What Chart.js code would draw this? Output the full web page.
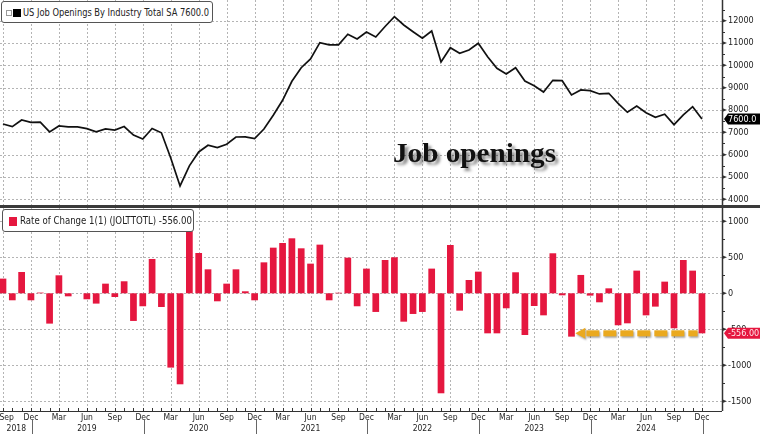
<!DOCTYPE html>
<html>
<head>
<meta charset="utf-8">
<script src="https://cdn.jsdelivr.net/npm/chart.js@4.4.1/dist/chart.umd.min.js"></script>
<style>
  html, body { margin:0; padding:0; background:#fff; }
  body { width:760px; height:434px; position:relative; overflow:hidden; }
  .cv { position:absolute; left:0; }
  #sep { position:absolute; left:0; top:205px; width:760px; height:3px; background:#3a3a3a; }
  .leg { position:absolute; background:#fff; border:1px solid #555; border-radius:3px; box-sizing:border-box; }
  .legtxt { position:absolute; white-space:nowrap; font-family:'Liberation Sans Narrow','DejaVu Sans Condensed','Liberation Sans',sans-serif; font-size:11px; color:#222; transform-origin:0 50%; }
  #title { position:absolute; left:393px; top:139px; font-family:'Liberation Serif','DejaVu Serif',serif; font-weight:bold; font-size:28px; line-height:28px; color:#111; text-shadow:3px 3px 3px rgba(0,0,0,0.45); white-space:nowrap; transform-origin:0 50%; }
</style>
</head>
<body>
<canvas id="top" class="cv" style="top:0"></canvas>
<div id="sep"></div>
<canvas id="bot" class="cv" style="top:208px"></canvas>

<div class="leg" style="left:1px;top:1px;width:212px;height:22px;">
  <span style="position:absolute;left:4px;top:8px;width:4px;height:4px;border:1px solid #999;"></span>
  <span style="position:absolute;left:11px;top:7px;width:8px;height:8px;background:#000;"></span>
  <span id="leg1" class="legtxt" style="left:21px;top:4px;"></span>
</div>
<div class="leg" style="left:2px;top:209px;width:192px;height:23px;">
  <span style="position:absolute;left:6px;top:7px;width:8px;height:9px;background:#e5173f;"></span>
  <span id="leg2" class="legtxt" style="left:17px;top:4px;"></span>
</div>
<div id="title">Job openings</div>

<script>
// ---------------- data ----------------
const categories = [
  'Sep 2018','Oct 2018','Nov 2018','Dec 2018',
  'Jan 2019','Feb 2019','Mar 2019','Apr 2019','May 2019','Jun 2019','Jul 2019','Aug 2019','Sep 2019','Oct 2019','Nov 2019','Dec 2019',
  'Jan 2020','Feb 2020','Mar 2020','Apr 2020','May 2020','Jun 2020','Jul 2020','Aug 2020','Sep 2020','Oct 2020','Nov 2020','Dec 2020',
  'Jan 2021','Feb 2021','Mar 2021','Apr 2021','May 2021','Jun 2021','Jul 2021','Aug 2021','Sep 2021','Oct 2021','Nov 2021','Dec 2021',
  'Jan 2022','Feb 2022','Mar 2022','Apr 2022','May 2022','Jun 2022','Jul 2022','Aug 2022','Sep 2022','Oct 2022','Nov 2022','Dec 2022',
  'Jan 2023','Feb 2023','Mar 2023','Apr 2023','May 2023','Jun 2023','Jul 2023','Aug 2023','Sep 2023','Oct 2023','Nov 2023','Dec 2023',
  'Jan 2024','Feb 2024','Mar 2024','Apr 2024','May 2024','Jun 2024','Jul 2024','Aug 2024','Sep 2024','Oct 2024','Nov 2024','Dec 2024'
];
// US Job Openings By Industry Total SA (thousands)
const openings = [
  7374, 7253, 7553, 7450,
  7460, 7020, 7285, 7240, 7240, 7166, 7020, 7150, 7100, 7260, 6880, 6700,
  7170, 6980, 5850, 4600, 5500, 6120, 6420, 6313, 6465, 6792, 6800, 6720,
  7150, 7764, 8435, 9286, 9895, 10285, 11015, 10920, 10920, 11391, 11181, 11494,
  11270, 11740, 12180, 11807, 11507, 11212, 11539, 10151, 10791, 10540, 10688, 10988,
  10388, 9868, 9613, 9895, 9300, 9089, 8807, 9331, 9313, 8673, 8897, 8866,
  8718, 8749, 8301, 7898, 8180, 7880, 7674, 7809, 7343, 7777, 8150, 7600
];
// Rate of Change 1(1) (JOLTTOTL)
const changes = [
  204, -97, 296, -97,
  10, -421, 250, -42, 0, -83, -143, 134, -51, 167, -384, -180,
  477, -190, -1032, -1264, 900, 560, 333, -111, 134, 333, 28, -97,
  430, 634, 699, 764, 625, 412, 676, -97, 8, 495, -180, 343,
  -259, 463, 500, -394, -287, -259, 343, -1389, 671, -241, 185, 301,
  -556, -556, -208, 292, -579, -176, -306, 556, -28, -602, 255, -32,
  -125, 69, -444, -417, 315, -306, -185, 162, -486, 463, 315, -556
];
const xTickIndex = [0,3,6,9,12,15,18,21,24,27,30,33,36,39,42,45,48,51,54,57,60,63,66,69,72,75];
const yTicksTop = [4000,5000,6000,7000,8000,9000,10000,11000,12000];
const yTicksBottom = [-1500,-1000,-500,0,500,1000];

// ---------------- helpers ----------------
const FONT = "'Liberation Sans Narrow','DejaVu Sans Condensed','Liberation Sans',sans-serif";
const RED = '#e5173f';
const GRID = '#b4b4b4';
const AXIS = '#333';
const X_MIN = -0.32, X_MAX = 77.15;

function tickLabel(v) {
  const i = Math.round(v);
  const [m, yr] = categories[i].split(' ');
  // the first (partial) year is centred in its short span and kept inside the frame
  if (i === 0) return ['   ' + m, '           ' + yr];
  return (m === 'Jun') ? [m, yr] : [m];
}

function line(ctx, x1, y1, x2, y2) { ctx.beginPath(); ctx.moveTo(x1, y1); ctx.lineTo(x2, y2); ctx.stroke(); }

function gridPlugin(yTicks, minorStep, isBottom) {
  return {
    id: 'panelGrid',
    beforeDatasetsDraw(chart) {
      const { ctx, chartArea: a, scales: { x, y } } = chart;
      ctx.save();
      ctx.strokeStyle = GRID; ctx.lineWidth = 1; ctx.setLineDash([2, 2]);
      xTickIndex.forEach(v => { const px = Math.round(x.getPixelForValue(v)) + 0.5; line(ctx, px, a.top, px, a.bottom); });
      yTicks.forEach(v => { const py = Math.round(y.getPixelForValue(v)) + 0.5; line(ctx, a.left, py, a.right, py); });
      ctx.restore();
    },
    afterDraw(chart) {
      const { ctx, chartArea: a, scales: { x, y } } = chart;
      ctx.save();
      // right axis line
      ctx.strokeStyle = AXIS; ctx.lineWidth = 1.5;
      line(ctx, a.right + 0.5, 0, a.right + 0.5, isBottom ? a.bottom : chart.height);
      // major ticks (small arrows) and minor ticks
      ctx.fillStyle = AXIS;
      yTicks.forEach(v => {
        const py = y.getPixelForValue(v);
        ctx.beginPath(); ctx.moveTo(a.right, py - 2); ctx.lineTo(a.right + 5, py); ctx.lineTo(a.right, py + 2); ctx.closePath(); ctx.fill();
      });
      ctx.lineWidth = 1;
      for (let v = yTicks[0] - minorStep; v <= yTicks[yTicks.length - 1] + minorStep; v += minorStep * 2) {
        const py = Math.round(y.getPixelForValue(v)) + 0.5;
        if (py > a.top && py < a.bottom) line(ctx, a.right, py, a.right + 3, py);
      }
      if (isBottom) {
        // x axis line, month ticks, year separators
        ctx.lineWidth = 1.2;
        line(ctx, 0, a.bottom + 0.5, a.right, a.bottom + 0.5);
        ctx.lineWidth = 1;
        categories.forEach((c, i) => {
          const px = Math.round(x.getPixelForValue(i)) + 0.5;
          line(ctx, px, a.bottom, px, a.bottom - 3);
          if (c.startsWith('Dec')) { ctx.strokeStyle = '#666'; line(ctx, px + 1, a.bottom + 8, px + 1, chart.height); ctx.strokeStyle = AXIS; }
        });
        // dashed arrow pointing to the latest value
        const last = changes.length - 1;
        const bw = (x.getPixelForValue(1) - x.getPixelForValue(0)) * 0.72;
        const yv = y.getPixelForValue(changes[last]);
        const tip = x.getPixelForValue(61) + bw / 2 + 0.5;
        const tail = x.getPixelForValue(last) - bw / 2 - 1;
        ctx.shadowColor = 'rgba(0,0,0,0.35)'; ctx.shadowOffsetX = 1; ctx.shadowOffsetY = 1.5; ctx.shadowBlur = 2;
        ctx.fillStyle = '#eaa91e';
        ctx.beginPath(); ctx.moveTo(tip, yv); ctx.lineTo(tip + 10, yv - 5.5); ctx.lineTo(tip + 10, yv + 5.5); ctx.closePath(); ctx.fill();
        let sx = tip + 11;
        while (sx < tail) { const w = Math.min(13, tail - sx); ctx.fillRect(sx, yv - 3, w, 6); sx += 17; }
        ctx.shadowColor = 'transparent';
      }
      // last-value tag
      const val = isBottom ? changes[changes.length - 1] : openings[openings.length - 1];
      const txt = isBottom ? val.toFixed(2) : val.toFixed(1);
      const ty = y.getPixelForValue(val);
      ctx.fillStyle = isBottom ? RED : '#000';
      ctx.beginPath();
      ctx.moveTo(a.right + 2, ty); ctx.lineTo(a.right + 6, ty - 5.5); ctx.lineTo(chart.width, ty - 5.5);
      ctx.lineTo(chart.width, ty + 5.5); ctx.lineTo(a.right + 6, ty + 5.5); ctx.closePath(); ctx.fill();
      ctx.fillStyle = isBottom ? '#ffe6ea' : '#fff';
      ctx.font = '9px ' + FONT; ctx.textAlign = 'left'; ctx.textBaseline = 'middle';
      ctx.fillText(txt, a.right + 6, ty + 0.5);
      ctx.restore();
    }
  };
}

function yAxis(min, max, ticks) {
  return {
    type: 'linear', position: 'right', min, max,
    afterBuildTicks: s => { s.ticks = ticks.map(v => ({ value: v })); },
    afterFit: s => { s.width = 38; s.paddingTop = 0; s.paddingBottom = 0; },
    grid: { display: false, drawTicks: false }, border: { display: false },
    ticks: { padding: 6, color: '#222', font: { family: FONT, size: 9 }, callback: v => String(v) }
  };
}

const common = {
  responsive: false, maintainAspectRatio: false, animation: false,
  layout: { padding: 0 },
  plugins: { legend: { display: false }, tooltip: { enabled: false } }
};

// ---------------- top chart ----------------
const topCv = document.getElementById('top');
topCv.width = 760; topCv.height = 205;
new Chart(topCv, {
  type: 'line',
  data: { datasets: [{ data: openings.map((v, i) => ({ x: i, y: v })), borderColor: '#111', borderWidth: 1.7, pointRadius: 0, tension: 0, fill: false }] },
  options: Object.assign({}, common, {
    scales: {
      x: { type: 'linear', min: X_MIN, max: X_MAX, display: false },
      y: yAxis(3745, 12927, yTicksTop)
    }
  }),
  plugins: [gridPlugin(yTicksTop, 500, false)]
});

// ---------------- bottom chart ----------------
const botCv = document.getElementById('bot');
botCv.width = 760; botCv.height = 226;
new Chart(botCv, {
  type: 'bar',
  data: { datasets: [{ data: changes.map((v, i) => ({ x: i, y: v })), backgroundColor: RED, borderWidth: 0, categoryPercentage: 0.8, barPercentage: 0.9 }] },
  options: Object.assign({}, common, {
    scales: {
      x: {
        type: 'linear', min: X_MIN, max: X_MAX, offset: false,
        afterBuildTicks: s => { s.ticks = xTickIndex.map(v => ({ value: v })); },
        afterFit: s => { s.height = 23; s.paddingLeft = 0; s.paddingRight = 0; },
        grid: { display: false, drawTicks: false, offset: false }, border: { display: false },
        ticks: { autoSkip: false, maxRotation: 0, padding: 2, color: '#222', font: { family: FONT, size: 8.5, lineHeight: 1.2 }, callback: v => tickLabel(v) }
      },
      y: yAxis(-1635, 1185, yTicksBottom)
    }
  }),
  plugins: [gridPlugin(yTicksBottom, 250, true)]
});

// ---------------- legends ----------------
function fitText(id, text, width) {
  const el = document.getElementById(id);
  el.textContent = text;
  const w = el.getBoundingClientRect().width;
  el.style.transform = 'scaleX(' + (width / w) + ')';
}
fitText('leg1', 'US Job Openings By Industry Total SA ' + openings[openings.length - 1].toFixed(1), 186);
fitText('leg2', 'Rate of Change 1(1) (JOLTTOTL) ' + changes[changes.length - 1].toFixed(2), 172);
fitText('title', 'Job openings', 163);
</script>
</body>
</html>
